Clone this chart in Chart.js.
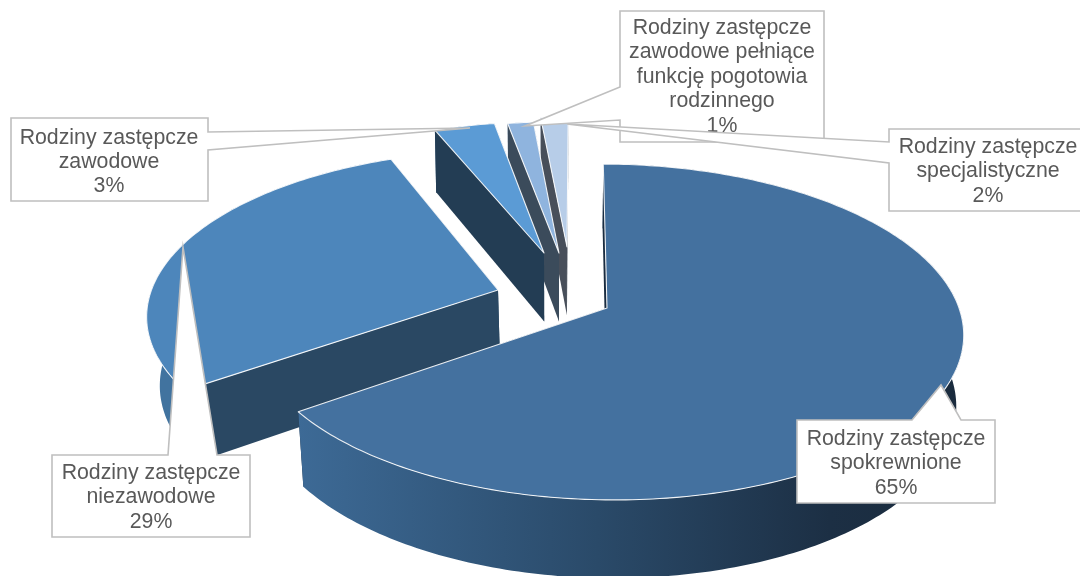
<!DOCTYPE html>
<html>
<head>
<meta charset="utf-8">
<style>html,body{margin:0;padding:0;background:#fff}canvas{display:block}</style>
<script src="https://cdn.jsdelivr.net/npm/chart.js@4/dist/chart.umd.js"></script>
</head>
<body>
<canvas id="c" width="1080" height="576"></canvas>
<script>
const categories = [
  ["Rodziny zastępcze", "spokrewnione"],
  ["Rodziny zastępcze", "niezawodowe"],
  ["Rodziny zastępcze", "zawodowe"],
  ["Rodziny zastępcze", "zawodowe pełniące", "funkcję pogotowia", "rodzinnego"],
  ["Rodziny zastępcze", "specjalistyczne"]
];
const shares = [65.2, 28.8, 3.3, 1.4, 1.5];
const topColors = ["#44719F", "#4D86BB", "#5B9BD5", "#8FB4DE", "#B7CDE8"];
const cutColors = ["#1A2C40", "#2A4863", "#233D54", "#3B4B5B", "#484F5A"];
const sideColors = [null, "#41739F", "#2F5578", "#6F8CAD", "#8EA0B5"];

// view of the tilted pie
const view = {cx: 560, cy: 285, rx: 345, ry: 158, k: 0.14, depth: 71};
// depth narrowing and tip position of each exploded slice
const narrowing = [0.018, 0.032, 0.012, 0.012, 0.012];
const tips = [[607, 308], [498, 290], [544, 253], [559, 253], [567, 247]];
const drawOrder = [4, 3, 2, 1, 0];

const boxes = [
  {i: 2, l: 11, t: 118, r: 208, b: 201, side: "right", a: 132, c: 150, tip: [470, 128], tx: 109, ty: 138, step: 24.3},
  {i: 1, l: 52, t: 455, r: 250, b: 537, side: "top", a: 168, c: 217, tip: [183, 247], tx: 151, ty: 473, step: 24.5},
  {i: 0, l: 797, t: 420, r: 995, b: 503, side: "top", a: 912, c: 961, tip: [941, 385], tx: 896, ty: 439, step: 24.5},
  {i: 3, l: 620, t: 11, r: 824, b: 142, side: "left", a: 87, c: 120, tip: [525, 126], tx: 722, ty: 28, step: 24.5},
  {i: 4, l: 889, t: 129, r: 1090, b: 211, side: "left", a: 142, c: 163, tip: [567, 124], tx: 988, ty: 147, step: 24.5}
];

function project(U, V, z, m) {
  const w = 1 - view.k * V + m * z;
  return [view.cx + view.rx * U / w, view.cy + (view.ry * V + view.depth * z) / w];
}
function offsetFor(tip) {
  const y = (tip[1] - view.cy) / view.ry;
  const V = y / (1 + view.k * y);
  const w = 1 - view.k * V;
  return [(tip[0] - view.cx) * w / view.rx, V];
}
function poly(ctx, pts) {
  ctx.beginPath();
  pts.forEach((p, n) => n ? ctx.lineTo(p[0], p[1]) : ctx.moveTo(p[0], p[1]));
  ctx.closePath();
}

function drawSlice(ctx, arc, idx) {
  const [du, dv] = offsetFor(tips[idx]);
  const m = narrowing[idx];
  const n = Math.max(8, Math.ceil((arc.endAngle - arc.startAngle) * 60));
  const rim = z => {
    const out = [];
    for (let j = 0; j <= n; j++) {
      const a = arc.startAngle + (arc.endAngle - arc.startAngle) * j / n;
      out.push(project(du + Math.cos(a), dv + Math.sin(a), z, m));
    }
    return out;
  };
  const topRim = rim(0), lowRim = rim(1);
  const tip0 = project(du, dv, 0, m), tip1 = project(du, dv, 1, m);

  // walls
  let side = sideColors[idx];
  if (!side) {
    const g = ctx.createLinearGradient(298, 0, 963, 0);
    g.addColorStop(0, "#3D6A96");
    g.addColorStop(0.45, "#2A4A69");
    g.addColorStop(0.8, "#1C2F44");
    g.addColorStop(1, "#1A2B3D");
    side = g;
  }
  ctx.fillStyle = cutColors[idx];
  poly(ctx, [tip0, topRim[n], lowRim[n], tip1]); ctx.fill();
  ctx.fillStyle = side;
  poly(ctx, topRim.concat(lowRim.slice().reverse())); ctx.fill();
  ctx.fillStyle = cutColors[idx];
  poly(ctx, [tip0, topRim[0], lowRim[0], tip1]); ctx.fill();

  // top face
  ctx.fillStyle = arc.options.backgroundColor;
  poly(ctx, [tip0].concat(topRim)); ctx.fill();
  ctx.strokeStyle = "rgba(255,255,255,0.9)";
  ctx.lineWidth = 1.1;
  ctx.lineJoin = "round";
  ctx.stroke();
}

function drawCallout(ctx, b, lines) {
  const pts = [[b.l, b.t], [b.r, b.t]];
  if (b.side === "top") {
    pts.length = 0;
    pts.push([b.l, b.t], [b.a, b.t], b.tip, [b.c, b.t], [b.r, b.t], [b.r, b.b], [b.l, b.b]);
  } else if (b.side === "right") {
    pts.push([b.r, b.a], b.tip, [b.r, b.c], [b.r, b.b], [b.l, b.b]);
  } else {
    pts.push([b.r, b.b], [b.l, b.b], [b.l, b.c], b.tip, [b.l, b.a]);
  }
  ctx.fillStyle = "#FFFFFF";
  ctx.strokeStyle = "#BFBFBF";
  ctx.lineWidth = 1.6;
  ctx.lineJoin = "miter";
  poly(ctx, pts); ctx.fill(); ctx.stroke();
  ctx.fillStyle = "#595959";
  ctx.font = '21.3px "Liberation Sans", Arial, sans-serif';
  ctx.textAlign = "center";
  ctx.textBaseline = "middle";
  lines.forEach((t, k) => ctx.fillText(t, b.tx, b.ty + k * b.step));
}

const tiltedPie = {
  id: "tiltedPie",
  beforeDatasetsDraw(chart) {
    const ctx = chart.ctx;
    const arcs = chart.getDatasetMeta(0).data;
    ctx.save();
    drawOrder.forEach(i => drawSlice(ctx, arcs[i], i));
    boxes.forEach(b => {
      const names = chart.data.labels[b.i];
      const pct = Math.round(chart.data.datasets[0].data[b.i]) + "%";
      drawCallout(ctx, b, names.concat(pct));
    });
    ctx.restore();
    return false;
  }
};

new Chart(document.getElementById("c"), {
  type: "pie",
  data: {
    labels: categories,
    datasets: [{data: shares, backgroundColor: topColors, borderWidth: 0}]
  },
  options: {
    responsive: false,
    animation: false,
    rotation: 0.4,
    plugins: {legend: {display: false}, tooltip: {enabled: false}}
  },
  plugins: [tiltedPie]
});
</script>
</body>
</html>
